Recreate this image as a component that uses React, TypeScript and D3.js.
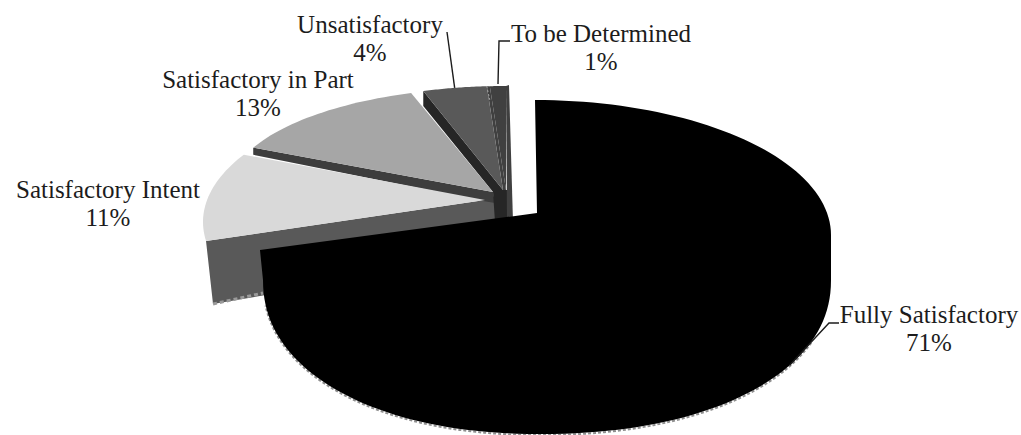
import React from "react";
import * as d3 from "d3";

// Compliance rating shares, drawn clockwise from twelve o'clock.
const ratings = ["Fully Satisfactory", "Satisfactory Intent", "Satisfactory in Part", "Unsatisfactory", "To be Determined"];
const shares = [71, 11, 13, 4, 1];
const shareLabels = ["71%", "11%", "13%", "4%", "1%"];

const WIDTH = 1021;
const HEIGHT = 435;
const FONT = "'Liberation Serif', 'Times New Roman', serif";
const INK = "#1c1c1c";
const EDGE = "#8f8f8f";

type Pt = [number, number];
type Rim = { apex: Pt; center: Pt; rx: number; ry: number; twist: number };

// Pulled-out wedges sit on their own ellipses, each with its own apex.
const introRim: Rim = { apex: [485, 200], center: [485, 222], rx: 282, ry: 130, twist: 6 };
const partRim: Rim = { apex: [493, 192], center: [493, 192], rx: 265, ry: 104, twist: 0 };
const unsatRim: Rim = { apex: [503, 190], center: [503, 190], rx: 258, ry: 104, twist: 0 };
const tbdRim: Rim = { apex: [506, 190], center: [506, 190], rx: 258, ry: 104, twist: 0 };

const arcs = d3.pie<number>().sort(null).value((d) => d)(shares);
const deg = Math.PI / 180;

const onRim = (r: Rim, a: number): Pt => {
  const t = a + r.twist * deg;
  return [r.center[0] + r.rx * Math.sin(t), r.center[1] - r.ry * Math.cos(t)];
};
const sweep = (a0: number, a1: number, n = 48) => d3.range(n + 1).map((i) => a0 + ((a1 - a0) * i) / n);
const path = d3.line<Pt>();

// Outer outline of the large wedge: a shallow top arc and a deeper, squarer front.
const backArc = (a: number): Pt => [535 + 296 * Math.sin(a), 235 - 135 * Math.cos(a)];
const frontArc = (a: number): Pt => {
  const n = 2 / 2.15;
  const s = Math.sin(a);
  const c = Math.cos(a);
  const rx = s >= 0 ? 291 : 277;
  return [540 + rx * Math.sign(s) * Math.abs(s) ** n, 280 - 154 * Math.sign(c) * Math.abs(c) ** n];
};

const bigApex: Pt = [537, 213];
const bigEnd = arcs[0].endAngle;
const bigCorner: Pt = [bigApex[0] + 286 * Math.sin(bigEnd), bigApex[1] - 149 * Math.cos(bigEnd)];
const frontPts = sweep(90 * deg, 270 * deg, 90).map(frontArc);
const rimShade = sweep(112 * deg, 262 * deg, 90).map(frontArc);
const bigOutline: Pt[] = [
  ...sweep(0, 90 * deg).map(backArc),
  ...frontPts,
  bigCorner,
  bigApex,
];

const wedge = (r: Rim, i: number): Pt[] => [
  r.apex,
  ...sweep(arcs[i].startAngle, arcs[i].endAngle, 30).map((a) => onRim(r, a)),
];

const introStart = onRim(introRim, arcs[1].startAngle);
const partStart = onRim(partRim, arcs[2].startAngle);
const unsatStart = onRim(unsatRim, arcs[3].startAngle);
const unsatEnd = onRim(unsatRim, arcs[3].endAngle);
const tbdStart = onRim(tbdRim, arcs[4].startAngle);
const tbdEnd = onRim(tbdRim, arcs[4].endAngle);

// Cut faces and the central column visible beneath the pulled-out wedges.
const faces: { pts: Pt[]; fill: string }[] = [
  {
    fill: "#595959",
    pts: [introStart, [introStart[0] + 7, introStart[1] + 63], [495, 256], [495, 198], introRim.apex],
  },
  {
    fill: "#3d3d3d",
    pts: [partStart, [partStart[0], partStart[1] + 7], [483, 201], [495, 203], partRim.apex],
  },
  {
    fill: "#262626",
    pts: [unsatStart, [unsatStart[0], unsatStart[1] + 15], partRim.apex, [495, 222], [508, 222], [508, 190], unsatRim.apex],
  },
  { fill: "#404040", pts: [unsatEnd, tbdStart, tbdRim.apex, unsatRim.apex] },
  { fill: "#404040", pts: [tbdEnd, [tbdEnd[0] + 3, tbdEnd[1] - 1], [513, 222], [507, 222]] },
];

const tops: { pts: Pt[]; fill: string }[] = [
  { pts: wedge(introRim, 1), fill: "#d9d9d9" },
  { pts: wedge(partRim, 2), fill: "#a6a6a6" },
  { pts: wedge(unsatRim, 3), fill: "#595959" },
  { pts: wedge(tbdRim, 4), fill: "#404040" },
];

const midAngle = (i: number) => (arcs[i].startAngle + arcs[i].endAngle) / 2;

// Label text is centred on each pair of lines.
const labelAt: { x: number; y: number }[] = [
  { x: 929, y: 323 },
  { x: 108, y: 198 },
  { x: 258, y: 88 },
  { x: 370, y: 33 },
  { x: 601, y: 42 },
];

const leaders: Pt[][] = [
  [[839, 323], [829, 323], frontArc(122 * deg)],
  [[447, 32], onRim(unsatRim, midAngle(3))],
  [[510, 41], [499, 41], [498, 84]],
];

export default function App() {
  return (
    <svg
      width={WIDTH}
      height={HEIGHT}
      viewBox={`0 0 ${WIDTH} ${HEIGHT}`}
      style={{ position: "absolute", left: 0, top: 0, background: "#fff" }}
    >
      {faces.map((f, i) => (
        <path key={i} d={path(f.pts) + "Z"} fill={f.fill} />
      ))}
      <path
        d={path([[introStart[0] + 7, introStart[1] + 63], [263, 293]]) ?? ""}
        fill="none"
        stroke="#9a9a9a"
        strokeWidth={3}
        strokeDasharray="4 3"
      />
      {tops.map((t, i) => (
        <path key={i} d={path(t.pts) + "Z"} fill={t.fill} />
      ))}
      <path
        d={path([unsatEnd, [unsatEnd[0] + 3, unsatEnd[1] + 14]]) ?? ""}
        fill="none"
        stroke="#a0a0a0"
        strokeWidth={1}
        strokeDasharray="2 2"
      />
      <path
        d={path(rimShade) ?? ""}
        transform="translate(0,1)"
        fill="none"
        stroke={EDGE}
        strokeWidth={2}
        strokeDasharray="3 2"
      />
      <path d={path(bigOutline) + "Z"} fill="#000" />
      {leaders.map((pts, i) => (
        <path key={i} d={path(pts) ?? ""} fill="none" stroke={INK} strokeWidth={1.4} />
      ))}
      {ratings.map((name, i) => (
        <text key={name} fontFamily={FONT} fontSize={25} fill={INK} textAnchor="middle">
          <tspan x={labelAt[i].x} y={labelAt[i].y}>
            {name}
          </tspan>
          <tspan x={labelAt[i].x} y={labelAt[i].y + 28}>
            {shareLabels[i]}
          </tspan>
        </text>
      ))}
    </svg>
  );
}
